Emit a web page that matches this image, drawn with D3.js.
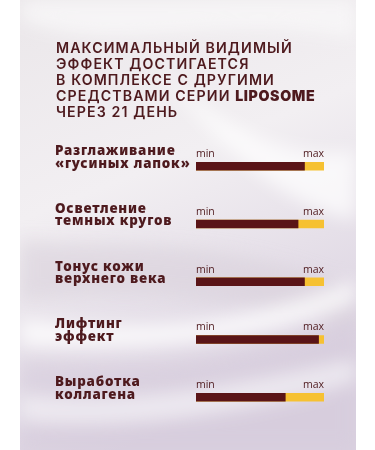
<!DOCTYPE html>
<html>
<head>
<meta charset="utf-8">
<script src="https://cdn.jsdelivr.net/npm/d3@7"></script>
<style>
  body { margin: 0; background: #fff; }
  svg { display: block; }
</style>
</head>
<body>
<div class="canvas"></div>
<script>
// Data
const titleLines = [
    'МАКСИМАЛЬНЫЙ ВИДИМЫЙ',
    'ЭФФЕКТ ДОСТИГАЕТСЯ',
    'В КОМПЛЕКСЕ С ДРУГИМИ',
    'СРЕДСТВАМИ СЕРИИ |LIPOSOME',
    'ЧЕРЕЗ 21 ДЕНЬ'
]
const categories = [
    'Разглаживание|«гусиных лапок»',
    'Осветление|темных кругов',
    'Тонус кожи|верхнего века',
    'Лифтинг|эффект',
    'Выработка|коллагена'
]
const values = [0.85, 0.80, 0.85, 0.96, 0.70]
const scaleLabels = ['min', 'max']

const width = 375
const height = 450
const maroon = '#5a1417'
const textColor = '#4e1a1e'
const yellow = '#f6c132'

const svg = d3.select('.canvas')
    .append('svg')
        .attr('width', width)
        .attr('height', height)

// Background panel with a soft silk look
const defs = svg.append('defs')
const bg = defs.append('linearGradient')
    .attr('id', 'bg')
    .attr('x1', 0).attr('y1', 0).attr('x2', 0.3).attr('y2', 1)
bg.append('stop').attr('offset', '0%').attr('stop-color', '#ebe7ea')
bg.append('stop').attr('offset', '45%').attr('stop-color', '#f2eff2')
bg.append('stop').attr('offset', '100%').attr('stop-color', '#dad1e0')

defs.append('filter').attr('id', 'blur')
    .append('feGaussianBlur').attr('stdDeviation', 9)

const panel = svg.append('g')
panel.append('rect')
    .attr('x', 20).attr('y', 0)
    .attr('width', 336).attr('height', height)
    .attr('fill', 'url(#bg)')

defs.append('clipPath').attr('id', 'clip')
    .append('rect').attr('x', 20).attr('y', 0).attr('width', 336).attr('height', height)

const silk = panel.append('g')
    .attr('clip-path', 'url(#clip)')
    .attr('filter', 'url(#blur)')

const folds = [
    {d: 'M20,20 C120,60 220,10 356,40 L356,0 L20,0 Z', fill: '#f7f6f7', op: 0.9},
    {d: 'M150,60 C230,140 300,160 356,150 L356,220 C290,210 220,150 150,60 Z', fill: '#ffffff', op: 0.7},
    {d: 'M20,240 C100,250 200,230 356,290 L356,330 C220,290 120,290 20,300 Z', fill: '#d8d0db', op: 0.6},
    {d: 'M20,320 C120,330 240,330 356,280 L356,300 C250,350 130,350 20,345 Z', fill: '#ffffff', op: 0.8},
    {d: 'M20,360 C140,370 250,370 356,320 L356,450 L20,450 Z', fill: '#d5cadb', op: 0.55},
    {d: 'M20,395 C130,410 260,380 356,360 L356,380 C260,410 130,430 20,420 Z', fill: '#f4f1f5', op: 0.8}
]
silk.selectAll('path')
    .data(folds)
    .enter()
    .append('path')
        .attr('d', d => d.d)
        .attr('fill', d => d.fill)
        .attr('opacity', d => d.op)

// Title
const title = svg.append('text')
    .attr('fill', textColor)
    .attr('font-family', 'Inter, "Open Sans", sans-serif')
    .attr('font-weight', 600)
    .attr('font-size', 14.2)
    .attr('letter-spacing', 1.1)

titleLines.forEach((line, i) => {
    const parts = line.split('|')
    title.append('tspan')
        .attr('x', 56)
        .attr('y', 53 + i * 16)
        .text(parts[0])
    if (parts[1]) {
        title.append('tspan')
            .attr('font-weight', 900)
            .attr('letter-spacing', 0.6)
            .text(parts[1])
    }
})

// Scales
const x = d3.scaleLinear()
    .domain([0, 1])
    .range([196, 324])

const y = d3.scalePoint()
    .domain(categories)
    .range([162, 393])

const barHeight = 8.5

const rows = svg.selectAll('g.row')
    .data(categories)
    .enter()
    .append('g')
        .attr('class', 'row')
        .attr('transform', d => `translate(0, ${y(d)})`)

// Category labels
rows.append('text')
    .attr('fill', textColor)
    .attr('font-family', '"Noto Sans", Inter, sans-serif')
    .attr('font-weight', 900)
    .attr('font-size', 13.4)
    .attr('letter-spacing', 0.8)
    .selectAll('tspan')
    .data(d => d.split('|'))
    .enter()
    .append('tspan')
        .attr('x', 55)
        .attr('y', (d, i) => -6.8 + i * 12.5)
        .text(d => d)

// min / max labels
rows.selectAll('text.minmax')
    .data(scaleLabels)
    .enter()
    .append('text')
        .attr('class', 'minmax')
        .attr('x', (d, i) => x(i))
        .attr('y', -5)
        .attr('text-anchor', (d, i) => i ? 'end' : 'start')
        .attr('fill', textColor)
        .attr('font-family', '"Open Sans", sans-serif')
        .attr('font-size', 10.5)
        .text(d => d)

// Track (yellow) and value (maroon)
rows.append('rect')
    .attr('x', x(0))
    .attr('y', 0)
    .attr('width', x(1) - x(0))
    .attr('height', barHeight)
    .attr('fill', yellow)

rows.append('rect')
    .attr('x', x(0))
    .attr('y', 0)
    .attr('width', (d, i) => x(values[i]) - x(0))
    .attr('height', barHeight)
    .attr('fill', maroon)
</script>
</body>
</html>
